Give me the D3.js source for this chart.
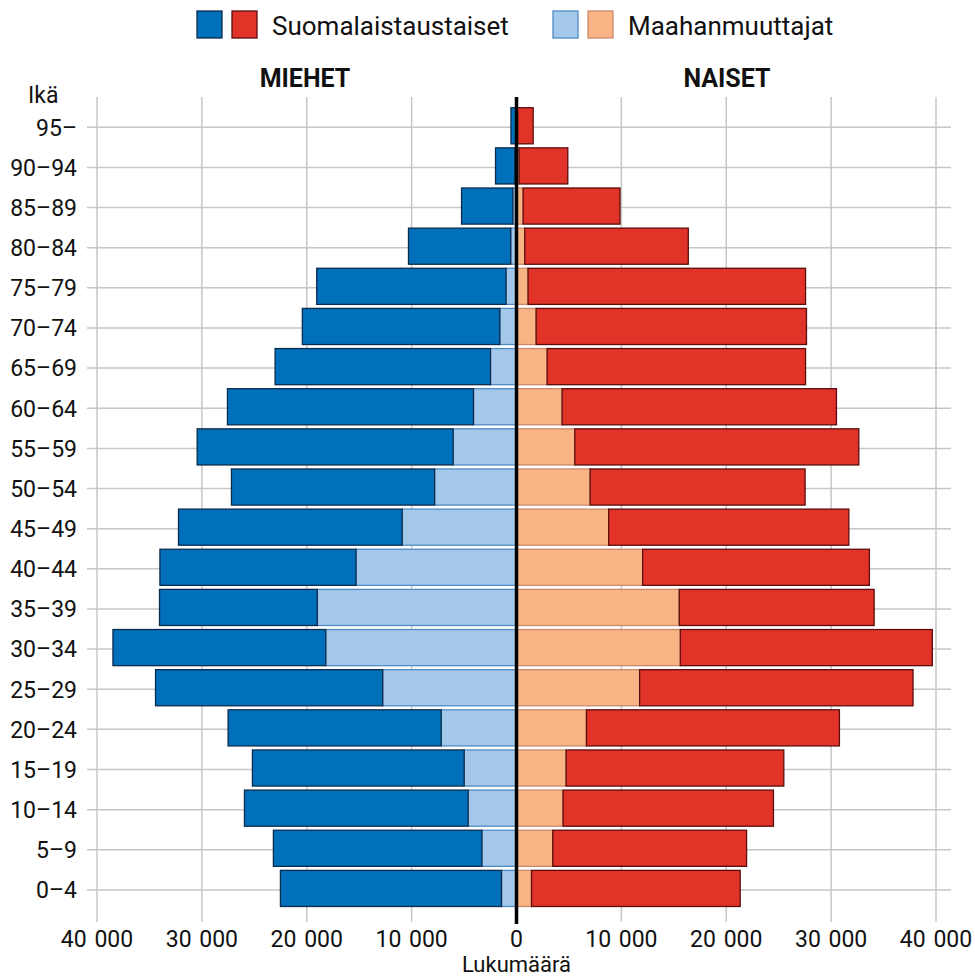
<!DOCTYPE html>
<html>
<head>
<meta charset="utf-8">
<script src="https://cdn.jsdelivr.net/npm/d3@7"></script>
<style>
    body { margin: 0; background: #fff; }
    text { font-family: Roboto, "Noto Sans", sans-serif; fill: #111; }
</style>
</head>
<body>
<script>
// age groups, youngest first
var ages = ["0–4", "5–9", "10–14", "15–19", "20–24", "25–29", "30–34", "35–39", "40–44", "45–49",
    "50–54", "55–59", "60–64", "65–69", "70–74", "75–79", "80–84", "85–89", "90–94", "95–"];

// men: finnish background / immigrants
var menFinnish = [21080, 19880, 21330, 20190, 20320, 21660, 20290, 15050, 18700, 21330,
    19370, 24410, 23460, 20540, 18830, 18050, 9750, 4890, 1850, 480];
var menImmigrant = [1430, 3300, 4610, 4990, 7180, 12760, 18190, 18990, 15300, 10900,
    7810, 6040, 4100, 2480, 1590, 1000, 550, 350, 150, 50];

// women: finnish background / immigrants
var womenFinnish = [19900, 18480, 20060, 20760, 24120, 26070, 24030, 18580, 21620, 22900,
    20500, 27080, 26160, 24640, 25780, 26460, 15590, 9240, 4640, 1530];
var womenImmigrant = [1430, 3460, 4440, 4730, 6670, 11740, 15620, 15520, 12030, 8790,
    7020, 5560, 4350, 2920, 1870, 1100, 790, 630, 250, 60];

var xTicks = [-40000, -30000, -20000, -10000, 0, 10000, 20000, 30000, 40000];

var w = 975, h = 976;
var svg = d3.select("body").append("svg")
    .attr("width", w)
    .attr("height", h);

var x = d3.scaleLinear()
    .domain([-40000, 40000])
    .range([97, 936]);

var y = d3.scaleBand()
    .domain(ages.slice().reverse()) // oldest on top
    .range([105.7, 908.5])
    .paddingInner(0.1)
    .paddingOuter(0.05);

var fmt = d3.formatLocale({ decimal: ",", thousands: "\u00a0", grouping: [3], currency: ["", "€"] }).format(",");

// vertical gridlines
svg.append("g").selectAll("line")
    .data(xTicks.filter(function(d){ return d !== 0; }))
    .enter().append("line")
    .attr("x1", function(d){ return x(d); })
    .attr("x2", function(d){ return x(d); })
    .attr("y1", 97)
    .attr("y2", 922)
    .style("stroke", "#c6c6c6")
    .style("stroke-width", 1.5);

// horizontal gridlines at each age group
svg.append("g").selectAll("line")
    .data(ages)
    .enter().append("line")
    .attr("x1", 87)
    .attr("x2", 951)
    .attr("y1", function(d){ return y(d) + y.bandwidth() / 2 + 1.5; })
    .attr("y2", function(d){ return y(d) + y.bandwidth() / 2 + 1.5; })
    .style("stroke", "#c6c6c6")
    .style("stroke-width", 1.5);

// build stacked rows
var rows = ages.map(function(a, i){
    return {
        age: a,
        mImm: menImmigrant[i],
        mFin: menFinnish[i],
        wImm: womenImmigrant[i],
        wFin: womenFinnish[i]
    };
});

var bars = svg.append("g");

function drawBars(x0, x1, fill, stroke){
    bars.selectAll(null)
        .data(rows)
        .enter().append("rect")
        .attr("x", function(d){ return Math.min(x(x0(d)), x(x1(d))); })
        .attr("width", function(d){ return Math.abs(x(x1(d)) - x(x0(d))); })
        .attr("y", function(d){ return y(d.age); })
        .attr("height", y.bandwidth())
        .style("fill", fill)
        .style("stroke", stroke)
        .style("stroke-width", 1.3);
}

// men to the left (negative), immigrants nearest the centre
drawBars(function(d){ return 0; }, function(d){ return -d.mImm; }, "#a3c8ea", "#4f8cc4");
drawBars(function(d){ return -d.mImm; }, function(d){ return -(d.mImm + d.mFin); }, "#0070ba", "#0d2c4d");
// women to the right
drawBars(function(d){ return 0; }, function(d){ return d.wImm; }, "#f8b484", "#c98a6a");
drawBars(function(d){ return d.wImm; }, function(d){ return d.wImm + d.wFin; }, "#e13327", "#5c0d0d");

// centre line
svg.append("line")
    .attr("x1", x(0)).attr("x2", x(0))
    .attr("y1", 97).attr("y2", 924)
    .style("stroke", "#000")
    .style("stroke-width", 3.5);

// age labels
svg.append("g").selectAll("text")
    .data(ages)
    .enter().append("text")
    .attr("x", 77)
    .attr("y", function(d){ return y(d) + y.bandwidth() / 2 + 1.5; })
    .attr("dy", "0.36em")
    .attr("text-anchor", "end")
    .style("font-size", "23px")
    .text(function(d){ return d; });

svg.append("text")
    .attr("x", 28)
    .attr("y", 103)
    .style("font-size", "23px")
    .text("Ikä");

// x axis labels
svg.append("g").selectAll("text")
    .data(xTicks)
    .enter().append("text")
    .attr("x", function(d){ return x(d); })
    .attr("y", 947)
    .attr("text-anchor", "middle")
    .style("font-size", "23px")
    .style("word-spacing", "2px")
    .text(function(d){ return fmt(Math.abs(d)); });

svg.append("text")
    .attr("x", x(0))
    .attr("y", 972)
    .attr("text-anchor", "middle")
    .style("font-size", "22px")
    .text("Lukumäärä");

// side titles
svg.append("text")
    .attr("x", 305).attr("y", 87)
    .attr("text-anchor", "middle")
    .style("font-size", "25px")
    .style("font-weight", "bold")
    .text("MIEHET");

svg.append("text")
    .attr("x", 727).attr("y", 87)
    .attr("text-anchor", "middle")
    .style("font-size", "25px")
    .style("font-weight", "bold")
    .text("NAISET");

// legend
var legend = [
    { label: "Suomalaistaustaiset", x: 197, colors: [["#0070ba", "#0d2c4d"], ["#e13327", "#5c0d0d"]] },
    { label: "Maahanmuuttajat", x: 553, colors: [["#a3c8ea", "#4f8cc4"], ["#f8b484", "#c98a6a"]] }
];
var lg = svg.append("g").selectAll("g")
    .data(legend)
    .enter().append("g")
    .attr("transform", function(d){ return "translate(" + d.x + ",11)"; });

lg.selectAll("rect")
    .data(function(d){ return d.colors; })
    .enter().append("rect")
    .attr("x", function(d, i){ return i * 35; })
    .attr("width", 25)
    .attr("height", 27)
    .style("fill", function(d){ return d[0]; })
    .style("stroke", function(d){ return d[1]; })
    .style("stroke-width", 1.3);

lg.append("text")
    .attr("x", 75)
    .attr("y", 24)
    .style("font-size", "26px")
    .text(function(d){ return d.label; });
</script>
</body>
</html>
